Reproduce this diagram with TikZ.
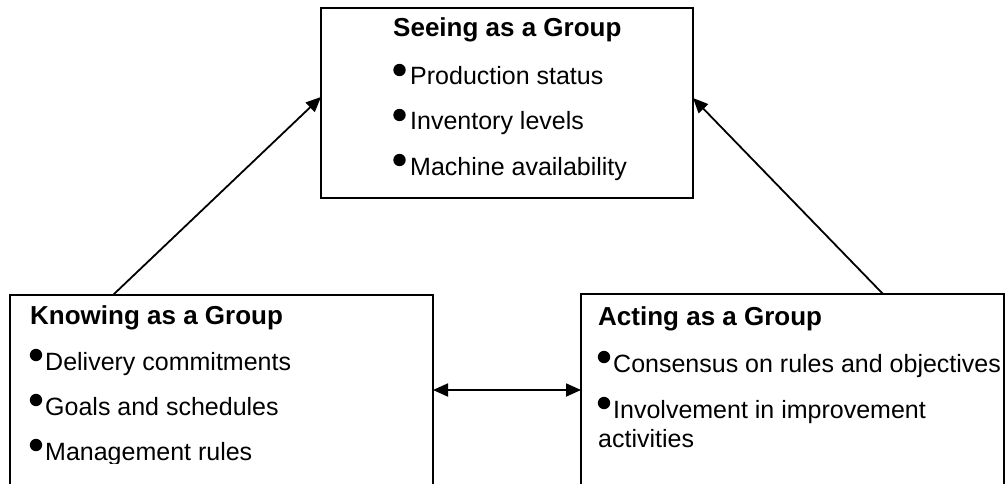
\documentclass[tikz,border=0pt]{standalone}
\usepackage{fontspec}
\setmainfont{Liberation Sans}
\usetikzlibrary{arrows.meta,calc}

\tikzset{
  box/.style={draw, line width=2pt, inner sep=0pt, outer sep=0pt},
  heading/.style={anchor=base west, inner sep=0pt, font=\bfseries\fontsize{26}{30}\selectfont},
  item/.style={anchor=base west, inner sep=0pt, align=left, font=\fontsize{25}{29}\selectfont},
  link/.style={line width=1.8pt, -{Triangle[length=15pt,width=13pt]}},
  biglink/.style={line width=1.8pt, {Triangle[length=15pt,width=13pt]}-{Triangle[length=15pt,width=13pt]}},
}
% round bullet placed just before an item's text
\newcommand\itemdot[2][10.5pt]{\fill ([xshift=-#1,yshift=15pt]#2.base west) circle (6.2pt);}

\begin{document}
\begin{tikzpicture}[x=1pt,y=-1pt]
  \clip (0,0) rectangle (1006,484);
  \fill[white] (0,0) rectangle (1006,484);

  % the three boxes
  \node[box, minimum width=372pt, minimum height=190pt] (see) at (507,103) {};
  \node[box, minimum width=423pt, minimum height=265pt] (know) at (221.5,427.5) {};
  \node[box, minimum width=423pt, minimum height=266pt] (act) at (792.5,427) {};

  % Seeing as a Group
  \node[heading] (seeT) at (393,37) {Seeing as a Group};
  \node[item] (see1) at (410,85) {Production status};
  \node[item] (see2) at (410,130) {Inventory levels};
  \node[item] (see3) at (410,175) {Machine availability};
  \itemdot{see1} \itemdot{see2} \itemdot{see3}

  % Knowing as a Group (text cut by the frame's inner margin)
  \begin{scope}
    \clip (10,295) rectangle (433,463);
    \node[heading] (knowT) at (30,324) {Knowing as a Group};
    \node[item] (know1) at (45,370) {Delivery commitments};
    \node[item] (know2) at (45,415) {Goals and schedules};
    \node[item] (know3) at (45,460) {Management rules};
    \itemdot[9pt]{know1} \itemdot[9pt]{know2} \itemdot[9pt]{know3}
  \end{scope}

  % Acting as a Group (base of the wrapped item is its last line)
  \node[heading] (actT) at (598,325) {Acting as a Group};
  \node[item] (act1) at (613,372) {Consensus on rules and objectives};
  \node[item] (act2) at (598,447) {\hspace*{15pt}Involvement in improvement\\activities};
  \itemdot[9pt]{act1}
  \fill ([xshift=6pt,yshift=44pt]act2.base west) circle (6.2pt);

  % connectors
  \draw[link] ([xshift=103pt]know.north west) -- ([yshift=-89pt]see.north west);
  \draw[link] ([xshift=302pt]act.north west) -- ([yshift=-90pt]see.north east);
  \draw[biglink] ([yshift=-95pt]know.north east) coordinate (k) -- (k -| act.west);
\end{tikzpicture}
\end{document}
